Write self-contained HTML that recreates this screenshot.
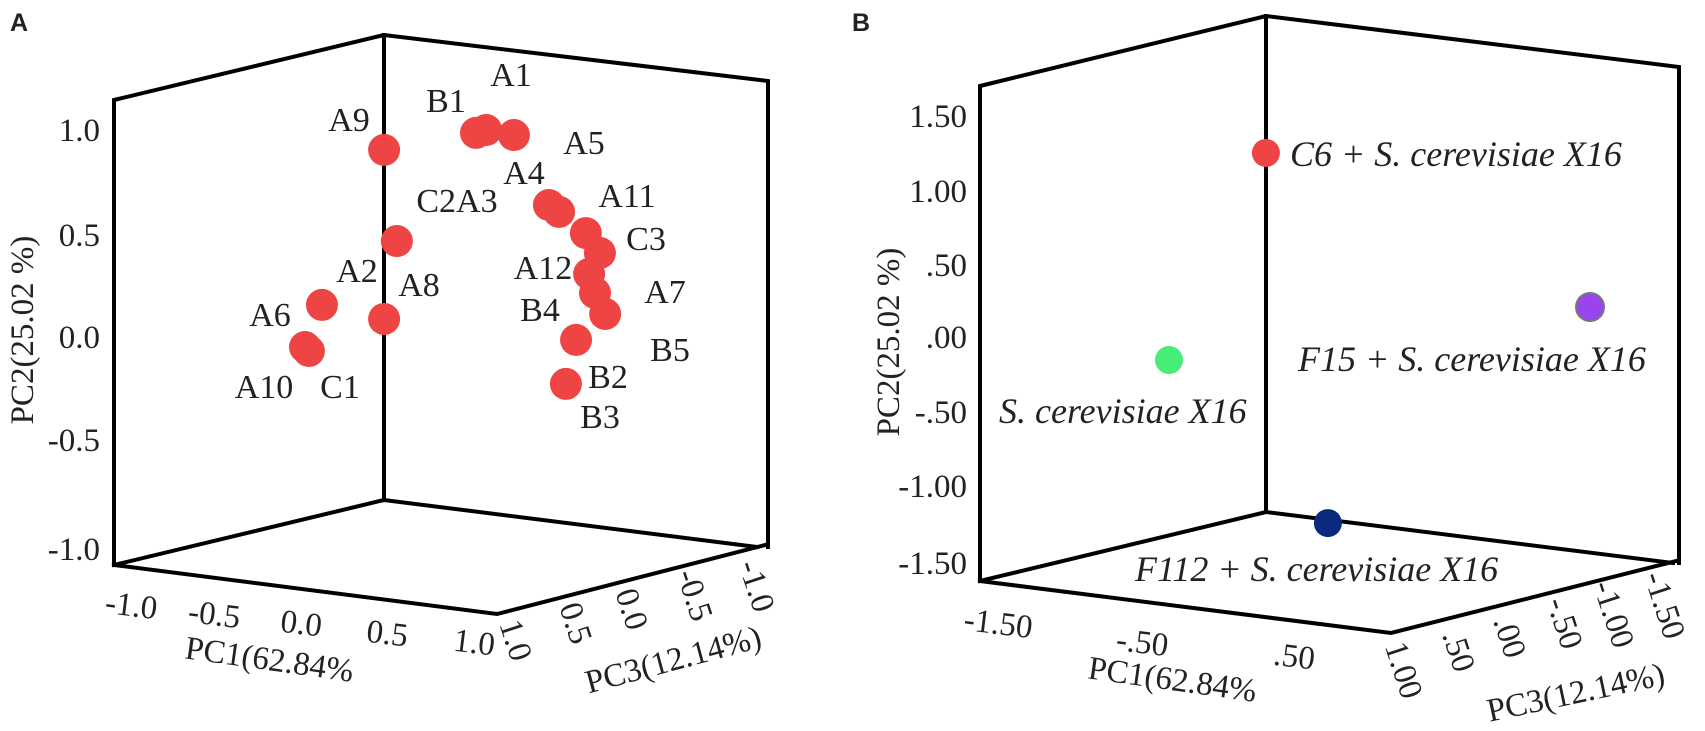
<!DOCTYPE html>
<html><head><meta charset="utf-8"><style>
html,body{margin:0;padding:0;background:#fff;}
svg{display:block;}
text{font-family:"Liberation Serif",serif;fill:#222;}
.t{font-size:33px;}
.lab{font-size:34px;}
.it{font-size:36px;font-style:italic;}
.ax{stroke:#000;stroke-width:4;fill:none;stroke-linecap:square;}
</style></head><body>
<svg id="chart" width="1705" height="731" viewBox="0 0 1705 731">
<g>
<text x="10" y="31" style="font-family:'Liberation Sans',sans-serif;font-weight:bold;font-size:25px" fill="#000">A</text>
<g>
<polyline class="ax" points="114,565 114,100 384,35 768,81 768,547"/>
<line class="ax" x1="384" y1="35" x2="384" y2="500"/>
<polyline class="ax" points="114,565 384,500 757,547"/>
<polyline class="ax" points="114,565 497,614 765,545"/>
</g>
<g text-anchor="end">
<text class="t" x="100" y="141">1.0</text>
<text class="t" x="100" y="246">0.5</text>
<text class="t" x="100" y="348">0.0</text>
<text class="t" x="100" y="451">-0.5</text>
<text class="t" x="100" y="560">-1.0</text>
</g>
<text class="t" transform="translate(33,330) rotate(-90)" text-anchor="middle">PC2(25.02 %)</text>
<g text-anchor="middle">
<text class="t" transform="translate(130,616) rotate(7)">-1.0</text>
<text class="t" transform="translate(213,625) rotate(7)">-0.5</text>
<text class="t" transform="translate(300,634) rotate(7)">0.0</text>
<text class="t" transform="translate(386,644) rotate(7)">0.5</text>
<text class="t" transform="translate(473,653) rotate(7)">1.0</text>
</g>
<text class="t" transform="translate(268,670) rotate(8)" text-anchor="middle">PC1(62.84%</text>
<g text-anchor="middle">
<text class="t" transform="translate(516,640) rotate(72)" dy="11">1.0</text>
<text class="t" transform="translate(576,623) rotate(72)" dy="11">0.5</text>
<text class="t" transform="translate(632,609) rotate(72)" dy="11">0.0</text>
<text class="t" transform="translate(695,595) rotate(72)" dy="11">-0.5</text>
<text class="t" transform="translate(757,586) rotate(72)" dy="11">-1.0</text>
</g>
<text class="t" transform="translate(676,670) rotate(-15)" text-anchor="middle">PC3(12.14%)</text>
<g id="ptsA"></g>
<g text-anchor="middle">
<text class="lab" x="511" y="86">A1</text>
<text class="lab" x="446" y="112">B1</text>
<text class="lab" x="349" y="131">A9</text>
<text class="lab" x="584" y="154">A5</text>
<text class="lab" x="524" y="184">A4</text>
<text class="lab" x="457" y="212">C2A3</text>
<text class="lab" x="627" y="207">A11</text>
<text class="lab" x="646" y="250">C3</text>
<text class="lab" x="543" y="279">A12</text>
<text class="lab" x="357" y="282">A2</text>
<text class="lab" x="419" y="296">A8</text>
<text class="lab" x="665" y="303">A7</text>
<text class="lab" x="270" y="326">A6</text>
<text class="lab" x="540" y="321">B4</text>
<text class="lab" x="670" y="361">B5</text>
<text class="lab" x="608" y="388">B2</text>
<text class="lab" x="264" y="398">A10</text>
<text class="lab" x="340" y="398">C1</text>
<text class="lab" x="600" y="428">B3</text>
</g>
</g>
<g>
<text x="852" y="31" style="font-family:'Liberation Sans',sans-serif;font-weight:bold;font-size:25px" fill="#000">B</text>
<g>
<polyline class="ax" points="980,581 980,86 1266,16 1679,67 1679,563"/>
<line class="ax" x1="1266" y1="16" x2="1266" y2="512"/>
<polyline class="ax" points="980,581 1266,512 1673,563"/>
<polyline class="ax" points="980,581 1391,633 1676,561"/>
</g>
<g text-anchor="end">
<text class="t" x="967" y="127">1.50</text>
<text class="t" x="967" y="202">1.00</text>
<text class="t" x="967" y="276">.50</text>
<text class="t" x="967" y="348">.00</text>
<text class="t" x="967" y="423">-.50</text>
<text class="t" x="967" y="497">-1.00</text>
<text class="t" x="967" y="574">-1.50</text>
</g>
<text class="t" transform="translate(899,342) rotate(-90)" text-anchor="middle">PC2(25.02 %)</text>
<g text-anchor="middle">
<text class="t" transform="translate(997,634) rotate(7)">-1.50</text>
<text class="t" transform="translate(1141,653) rotate(7)">-.50</text>
<text class="t" transform="translate(1293,667) rotate(7)">.50</text>
</g>
<text class="t" transform="translate(1171,690) rotate(8)" text-anchor="middle">PC1(62.84%</text>
<g text-anchor="middle">
<text class="t" transform="translate(1404,670) rotate(72)" dy="11">1.00</text>
<text class="t" transform="translate(1459,651) rotate(72)" dy="11">.50</text>
<text class="t" transform="translate(1510,637) rotate(72)" dy="11">.00</text>
<text class="t" transform="translate(1565,623) rotate(72)" dy="11">-.50</text>
<text class="t" transform="translate(1614,614) rotate(72)" dy="11">-1.00</text>
<text class="t" transform="translate(1665,605) rotate(72)" dy="11">-1.50</text>
</g>
<text class="t" transform="translate(1578,703) rotate(-12)" text-anchor="middle">PC3(12.14%)</text>
<g id="ptsB"></g>
<g>
<text class="it" x="1290" y="166">C6 + S. cerevisiae X16</text>
<text class="it" x="999" y="423">S. cerevisiae X16</text>
<text class="it" x="1298" y="371">F15 + S. cerevisiae X16</text>
<text class="it" x="1135" y="581">F112 + S. cerevisiae X16</text>
</g>
</g>
</svg>
<script>
// Panel A data (projected PC1, PC2)
const aNames = ["A9","B1","A3","A4","C2","A6","A8","A10","C1","A11a","A11b","C3","A12","A7a","A7b","B4","B2","B3"];
const aPC1 = [-0.174,0.107,0.138,0.223,-0.135,-0.364,-0.174,-0.416,-0.404,0.330,0.361,0.443,0.486,0.453,0.471,0.502,0.413,0.382];
const aPC2 = [0.905,0.986,1.0,0.976,0.47,0.165,0.098,-0.036,-0.055,0.642,0.609,0.508,0.413,0.313,0.222,0.122,-0.002,-0.212];
// Panel B data
const bNames = ["C6-X16","X16","F15-X16","F112-X16"];
const bPC1 = [-0.275,-0.691,1.116,-0.009];
const bPC2 = [1.252,-0.138,0.218,-1.232];
const bColors = ["#ee4444","#44ee77","#9944ee","#0a2a80"];

const NS = "http://www.w3.org/2000/svg";
function axA_x(v){return 441 + v*327;}
function axA_y(v){return 339.5 - v*209.5;}
function axB_x(v){return 1330 + v*233;}
function axB_y(v){return 339.5 - v*149;}

const gA = document.getElementById("ptsA");
for (let i=0;i<aPC1.length;i++){
  const c = document.createElementNS(NS,"circle");
  c.setAttribute("cx", axA_x(aPC1[i]));
  c.setAttribute("cy", axA_y(aPC2[i]));
  c.setAttribute("r", 16);
  c.setAttribute("fill", "#ee4444");
  
  
  gA.appendChild(c);
}
const gB = document.getElementById("ptsB");
for (let i=0;i<bPC1.length;i++){
  const c = document.createElementNS(NS,"circle");
  c.setAttribute("cx", axB_x(bPC1[i]));
  c.setAttribute("cy", axB_y(bPC2[i]));
  c.setAttribute("r", 14);
  c.setAttribute("fill", bColors[i]);
  if (i===2){ c.setAttribute("stroke","#777"); c.setAttribute("stroke-width","2"); }
  
  
  gB.appendChild(c);
}
</script>
</body></html>
